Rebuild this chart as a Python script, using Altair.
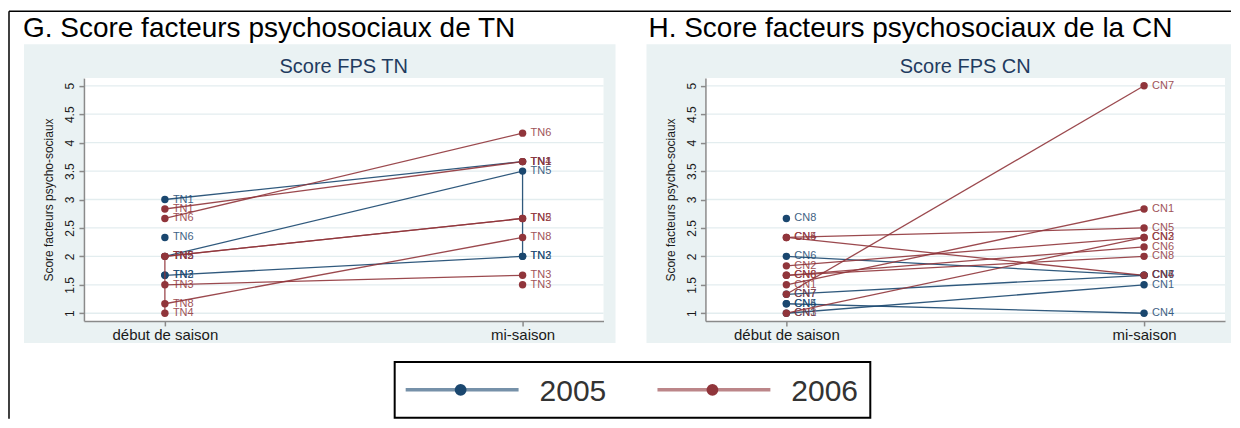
import altair as alt
import pandas as pd

FONT = "Liberation Sans"
BLUE = "#1a476f"
RED = "#90353b"
BG = "#eaf2f3"
GRID = "#e3edef"
AXIS_GRAY = "#8a8a8a"

TIMES = ["début de saison", "mi-saison"]
Y_TICKS = [1, 1.5, 2, 2.5, 3, 3.5, 4, 4.5, 5]
YEARS = [2005, 2006]
Y_TITLE = "Score facteurs psycho-sociaux"

# ---------- Panel G : TN ----------
TN_2005_debut_ids = ["TN1", "TN6", "TN5", "TN2", "TN3"]
TN_2005_debut_vals = [3.0, 2.333, 2.0, 1.667, 1.667]
TN_2005_mi_ids = ["TN1", "TN5", "TN2", "TN3"]
TN_2005_mi_vals = [3.667, 3.5, 2.0, 2.0]
TN_2006_debut_ids = ["TN1", "TN6", "TN2", "TN5", "TN3", "TN8", "TN4"]
TN_2006_debut_vals = [2.833, 2.667, 2.0, 2.0, 1.5, 1.167, 1.0]
TN_2006_mi_ids = ["TN6", "TN1", "TN4", "TN2", "TN5", "TN8", "TN3", "TN3"]
TN_2006_mi_vals = [4.167, 3.667, 3.667, 2.667, 2.667, 2.333, 1.667, 1.5]

# connecting lines (year, start time index, start value, end time index, end value)
TN_seg_year = [2005, 2005, 2005, 2005, 2006, 2006, 2006, 2006, 2006, 2006, 2006]
TN_seg_t1 = [0, 0, 0, 1, 0, 0, 0, 0, 0, 0, 0]
TN_seg_v1 = [3.0, 1.667, 2.0, 2.0, 2.833, 2.667, 2.0, 2.0, 1.167, 1.5, 1.0]
TN_seg_t2 = [1, 1, 1, 1, 1, 1, 1, 1, 1, 1, 0]
TN_seg_v2 = [3.667, 2.0, 3.5, 3.5, 3.667, 4.167, 2.667, 2.667, 2.333, 1.667, 2.0]

# ---------- Panel H : CN ----------
CN_2005_debut_ids = ["CN8", "CN6", "CN7", "CN4", "CN5", "CN1"]
CN_2005_debut_vals = [2.667, 2.0, 1.333, 1.167, 1.167, 1.0]
CN_2005_mi_ids = ["CN6", "CN7", "CN1", "CN4"]
CN_2005_mi_vals = [1.667, 1.667, 1.5, 1.0]
CN_2006_debut_ids = ["CN4", "CN5", "CN2", "CN6", "CN8", "CN1", "CN7", "CN3"]
CN_2006_debut_vals = [2.333, 2.333, 1.833, 1.667, 1.667, 1.5, 1.333, 1.0]
CN_2006_mi_ids = ["CN7", "CN1", "CN5", "CN2", "CN3", "CN6", "CN8", "CN4"]
CN_2006_mi_vals = [5.0, 2.833, 2.5, 2.333, 2.333, 2.167, 2.0, 1.667]

CN_seg_year = [2005, 2005, 2005, 2005, 2006, 2006, 2006, 2006, 2006, 2006, 2006, 2006]
CN_seg_t1 = [0] * 12
CN_seg_v1 = [1.0, 1.333, 1.167, 2.0, 1.5, 1.833, 1.0, 2.333, 2.333, 1.667, 1.333, 1.667]
CN_seg_t2 = [1] * 12
CN_seg_v2 = [1.5, 1.667, 1.0, 1.667, 2.833, 2.333, 2.333, 1.667, 2.5, 2.167, 5.0, 2.0]

LEG_YEARS = [2005, 2006]
LEG_LABELS = ["2005", "2006"]


def make_points(groups):
    rows = []
    for year, t, ids, vals in groups:
        for i, v in zip(ids, vals):
            rows.append({"year": year, "time": TIMES[t], "id": i, "value": v})
    return pd.DataFrame(rows)


def make_segs(years, t1, v1, t2, v2):
    rows = []
    for k, (y, a, b, c, d) in enumerate(zip(years, t1, v1, t2, v2)):
        rows.append({"seg": k, "year": y, "pt": 0, "time": TIMES[a], "value": b})
        rows.append({"seg": k, "year": y, "pt": 1, "time": TIMES[c], "value": d})
    return pd.DataFrame(rows)


tn_pts = make_points([
    (2005, 0, TN_2005_debut_ids, TN_2005_debut_vals),
    (2005, 1, TN_2005_mi_ids, TN_2005_mi_vals),
    (2006, 0, TN_2006_debut_ids, TN_2006_debut_vals),
    (2006, 1, TN_2006_mi_ids, TN_2006_mi_vals),
])
tn_segs = make_segs(TN_seg_year, TN_seg_t1, TN_seg_v1, TN_seg_t2, TN_seg_v2)
cn_pts = make_points([
    (2005, 0, CN_2005_debut_ids, CN_2005_debut_vals),
    (2005, 1, CN_2005_mi_ids, CN_2005_mi_vals),
    (2006, 0, CN_2006_debut_ids, CN_2006_debut_vals),
    (2006, 1, CN_2006_mi_ids, CN_2006_mi_vals),
])
cn_segs = make_segs(CN_seg_year, CN_seg_t1, CN_seg_v1, CN_seg_t2, CN_seg_v2)

W, H = 520, 243
YDOM = [0.865, 5.135]


def xenc():
    return alt.X(
        "time:N", sort=TIMES,
        scale=alt.Scale(type="point", padding=0.2263),
        axis=alt.Axis(title=None, labelAngle=0, labelFontSize=15, labelFont=FONT,
                      labelColor="#1a1a1a", tickSize=5, labelPadding=2,
                      domainColor=AXIS_GRAY, tickColor=AXIS_GRAY, domainWidth=1.5,
                      tickWidth=1.5, grid=False, zindex=1),
    )


def yenc(field):
    return alt.Y(
        f"{field}:Q",
        scale=alt.Scale(domain=YDOM, nice=False, zero=False),
        axis=alt.Axis(values=Y_TICKS, format="~g", title=Y_TITLE, labelAngle=-90,
                      labelAlign="center", labelBaseline="bottom",
                      labelFontSize=12, labelFont=FONT, labelColor="#1a1a1a",
                      labelPadding=2, tickSize=5, domainColor=AXIS_GRAY,
                      tickColor=AXIS_GRAY, domainWidth=1.5, tickWidth=1.5,
                      titleFont=FONT, titleFontSize=12, titleFontWeight="normal",
                      titleColor="#1a1a1a", titlePadding=8, grid=False, zindex=1),
    )


def panel(pts, segs, big_title, subtitle, bg_x, bg_x2, title_x, frame=False):
    one = pd.DataFrame({"k": [0]})
    layers = [
        alt.Chart(one).mark_rect(color=BG).encode(
            x=alt.value(bg_x), x2=alt.value(bg_x2), y=alt.value(-34), y2=alt.value(265)),
        alt.Chart(one).mark_rect(color="white").encode(
            x=alt.value(0), x2=alt.value(W), y=alt.value(0), y2=alt.value(H)),
        alt.Chart(pd.DataFrame({"tick": Y_TICKS})).mark_rule(color=GRID, strokeWidth=1.3).encode(
            y=yenc("tick"), x=alt.value(0), x2=alt.value(W)),
    ]
    for year, col in zip(YEARS, [BLUE, RED]):
        layers.append(
            alt.Chart(segs).transform_filter(alt.datum.year == year)
            .mark_line(color=col, strokeWidth=1.3, opacity=0.9)
            .encode(x=xenc(), y=yenc("value"), detail="seg:N", order="pt:Q"))
        layers.append(
            alt.Chart(pts).transform_filter(alt.datum.year == year)
            .mark_point(filled=True, size=55, opacity=1, color=col)
            .encode(x=xenc(), y=yenc("value")))
        layers.append(
            alt.Chart(pts).transform_filter(alt.datum.year == year)
            .mark_text(align="left", baseline="middle", dx=8, fontSize=11, font=FONT,
                       color=col, opacity=0.85)
            .encode(x=xenc(), y=yenc("value"), text="id:N"))
    layers.append(
        alt.Chart(pd.DataFrame({"t": [subtitle]}))
        .mark_text(align="center", baseline="alphabetic", fontSize=20, font=FONT, color="#1f3b5f")
        .encode(x=alt.value(W / 2), y=alt.value(-5), text="t:N"))
    layers.append(
        alt.Chart(pd.DataFrame({"t": [big_title]}))
        .mark_text(align="left", baseline="alphabetic", fontSize=28, font=FONT, color="black")
        .encode(x=alt.value(title_x), y=alt.value(-41), text="t:N"))
    if frame:
        layers.append(alt.Chart(one).mark_rule(color="black", strokeWidth=1.5).encode(
            x=alt.value(-75), x2=alt.value(1148), y=alt.value(-67)))
        layers.append(alt.Chart(one).mark_rule(color="black", strokeWidth=1.5).encode(
            x=alt.value(-75), y=alt.value(-67), y2=alt.value(341)))
    return alt.layer(*layers).properties(width=W, height=H)


p1 = panel(tn_pts, tn_segs, "G. Score facteurs psychosociaux de TN", "Score FPS TN",
           -60, 532, -61, frame=True)
p2 = panel(cn_pts, cn_segs, "H. Score facteurs psychosociaux de la CN", "Score FPS CN",
           -59, 526, -57)

# ---------- legend ----------
leg_df = pd.DataFrame({"year": LEG_YEARS, "label": LEG_LABELS})
lx = alt.X("year:Q", scale=alt.Scale(domain=[2005, 2006], range=[377, 629]), axis=None)
lcol = alt.Color("label:N", scale=alt.Scale(domain=LEG_LABELS, range=[BLUE, RED]), legend=None)
box = alt.Chart(pd.DataFrame({"k": [0]})).mark_rect(fillOpacity=0, stroke="black", strokeWidth=2).encode(
    x=alt.value(311), x2=alt.value(787), y=alt.value(0), y2=alt.value(56))
lrule = alt.Chart(leg_df).mark_rule(strokeWidth=3.5, opacity=0.6, xOffset=-55, x2Offset=58).encode(
    x=lx, x2="year:Q", y=alt.value(28), color=lcol)
lpt = alt.Chart(leg_df).mark_point(filled=True, size=140, opacity=1).encode(
    x=lx, y=alt.value(28), color=lcol)
ltxt = alt.Chart(leg_df).mark_text(align="left", baseline="alphabetic", dx=79, fontSize=30,
                                   font=FONT, color="#333333").encode(
    x=lx, y=alt.value(39), text="label:N")
legend = alt.layer(box, lrule, lpt, ltxt).properties(width=787, height=56)

top = alt.hconcat(p1, p2, spacing=102, bounds="flush")
# with flush bounds the nested row counts as zero height, so the spacing covers the plot height
chart = alt.vconcat(top, legend, spacing=H + 41, bounds="flush").properties(
    padding={"left": 0, "top": 2, "right": 0, "bottom": 0}
).configure_view(strokeWidth=0)

chart.save("out.html", embed_options={"renderer": "svg", "actions": False})
